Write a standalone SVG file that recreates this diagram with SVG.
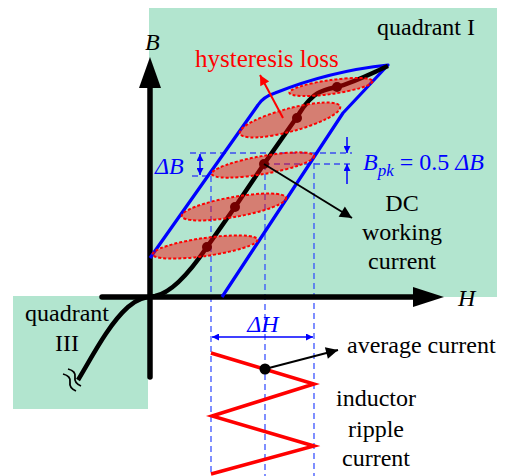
<svg xmlns="http://www.w3.org/2000/svg" width="509" height="476" viewBox="0 0 509 476">
<defs>
<style>
text{font-family:"Liberation Serif","Times New Roman",serif;font-size:24px;fill:#000}
.it{font-style:italic}
.blue{fill:#0000ff}
.red{fill:#ff0000}
.dash{stroke:#0000ff;stroke-width:1.2;stroke-dasharray:6,4;fill:none}
.dashv{stroke:#2a45ff;stroke-width:1.2;stroke-dasharray:6,4;fill:none}
.ell{fill:#ff0000;fill-opacity:0.45;stroke:#ff0000;stroke-width:2;stroke-dasharray:3,2}
.dot{fill:#000}
</style>
<marker id="ab" viewBox="0 0 10 10" refX="10" refY="5" markerWidth="8" markerHeight="7" markerUnits="userSpaceOnUse" orient="auto-start-reverse"><path d="M0,0 L10,5 L0,10 z" fill="#0000ff"/></marker>
<marker id="ak" viewBox="0 0 10 10" refX="10" refY="5" markerWidth="16" markerHeight="12" markerUnits="userSpaceOnUse" orient="auto"><path d="M0,0 L10,5 L0,10 z" fill="#000"/></marker>
<marker id="ar" viewBox="0 0 10 10" refX="10" refY="5" markerWidth="12" markerHeight="10" markerUnits="userSpaceOnUse" orient="auto"><path d="M0,0 L10,5 L0,10 z" fill="#ff0000"/></marker>
</defs>
<rect width="509" height="476" fill="#fff"/>
<g id="quadrant-I-bg"><rect x="149" y="8" width="348" height="289" fill="#b2e5cf"/></g>
<g id="quadrant-III-bg"><rect x="13" y="296" width="135" height="113" fill="#b2e5cf"/></g>

<g id="connectors">
<line class="dash" x1="190" y1="153" x2="352" y2="153"/>
<line class="dash" x1="264" y1="164" x2="352" y2="164"/>
<line class="dash" x1="192" y1="176" x2="212" y2="176"/>
<line class="dashv" x1="211" y1="176" x2="211" y2="476"/>
<line class="dashv" x1="265" y1="164" x2="265" y2="476"/>
<line class="dashv" x1="314" y1="153" x2="314" y2="476"/>
<line x1="200" y1="154" x2="200" y2="175" stroke="#0000ff" stroke-width="1.5" marker-start="url(#ab)" marker-end="url(#ab)"/>
<line x1="347" y1="137" x2="347" y2="153" stroke="#0000ff" stroke-width="1.5" marker-end="url(#ab)"/>
<line x1="347" y1="184" x2="347" y2="164" stroke="#0000ff" stroke-width="1.5" marker-end="url(#ab)"/>
<line x1="212" y1="337" x2="313" y2="337" stroke="#0000ff" stroke-width="1.5" marker-start="url(#ab)" marker-end="url(#ab)"/>
</g>

<g id="axes">
<line x1="150" y1="377" x2="150" y2="86" stroke="#000" stroke-width="5.5" stroke-linecap="round"/>
<path d="M139,88 L150,57 L161,88 z" fill="#000"/>
<line x1="102" y1="297" x2="415" y2="297" stroke="#000" stroke-width="5.5" stroke-linecap="round"/>
<path d="M413,287 L444,297 L413,307 z" fill="#000"/>
</g>

<g id="hysteresis-loop">
<path d="M150,258 L258,105 Q263,97 275,93 C300,83 340,70 388,65 L343,113 L222,297" fill="none" stroke="#0000ff" stroke-width="3.2" stroke-linejoin="round"/>
</g>

<g id="bh-curve">
<path d="M78,380 C92,357 108,325 128,307 C137,299 145,297 155,296 C172,293 190,272 207,247 L235,207 L264,164 L297,117 C303,107 311,96 320,92 Q330,88 337,87 C355,82 372,73 388,66" fill="none" stroke="#000" stroke-width="4.5" stroke-linejoin="round"/>
<path d="M63,374 q8,2 7,8 q-1,6 6,9 M68,369 q8,2 7,8 q-1,6 6,9" fill="none" stroke="#000" stroke-width="1.8"/>
<circle class="dot" cx="207" cy="247" r="5"/>
<circle class="dot" cx="235" cy="207" r="5"/>
<circle class="dot" cx="264" cy="164" r="5"/>
<circle class="dot" cx="297" cy="118" r="5"/>
<circle class="dot" cx="337" cy="87" r="5"/>
</g>

<g id="minor-loops">
<ellipse class="ell" cx="331" cy="87" rx="42" ry="7" transform="rotate(-8 331 87)"/>
<ellipse class="ell" cx="290" cy="120" rx="52" ry="11.5" transform="rotate(-15 290 120)"/>
<ellipse class="ell" cx="263" cy="165" rx="52" ry="9" transform="rotate(-10 263 165)"/>
<ellipse class="ell" cx="234" cy="207" rx="53" ry="10" transform="rotate(-10 234 207)"/>
<ellipse class="ell" cx="205" cy="247" rx="53" ry="9" transform="rotate(-8 205 247)"/>
</g>

<g id="ripple">
<polyline points="211,353 314,384 212,416 314,446 211,474" fill="none" stroke="#ff0000" stroke-width="3.5" stroke-linejoin="miter"/>
<circle cx="265" cy="369" r="5.5" fill="#000"/>
</g>

<g id="pointers">
<line x1="283" y1="118" x2="260" y2="75" stroke="#ff0000" stroke-width="2" marker-end="url(#ar)"/>
<line x1="264" y1="164" x2="352" y2="218" stroke="#000" stroke-width="2" marker-end="url(#ak)"/>
<line x1="265" y1="369" x2="338" y2="350" stroke="#000" stroke-width="2" marker-end="url(#ak)"/>
</g>

<g id="labels">
<text x="377" y="35">quadrant I</text>
<text class="it" x="145" y="50">B</text>
<text class="it" x="458" y="306">H</text>
<text class="red" x="195" y="67" style="font-size:25px">hysteresis loss</text>
<text class="it blue" x="155" y="174">ΔB</text>
<text class="blue" x="363" y="170"><tspan class="it">B</tspan><tspan class="it" dy="6" style="font-size:17px">pk</tspan><tspan dy="-6"> = 0.5 </tspan><tspan class="it">ΔB</tspan></text>
<text class="it blue" x="263" y="332" text-anchor="middle">ΔH</text>
<text x="402" y="211" text-anchor="middle">DC</text>
<text x="402" y="240" text-anchor="middle">working</text>
<text x="402" y="269" text-anchor="middle">current</text>
<text x="347" y="353">average current</text>
<text x="376" y="406" text-anchor="middle">inductor</text>
<text x="376" y="437" text-anchor="middle">ripple</text>
<text x="376" y="466" text-anchor="middle">current</text>
<text x="67" y="321" text-anchor="middle">quadrant</text>
<text x="67" y="351" text-anchor="middle">III</text>
</g>
</svg>
